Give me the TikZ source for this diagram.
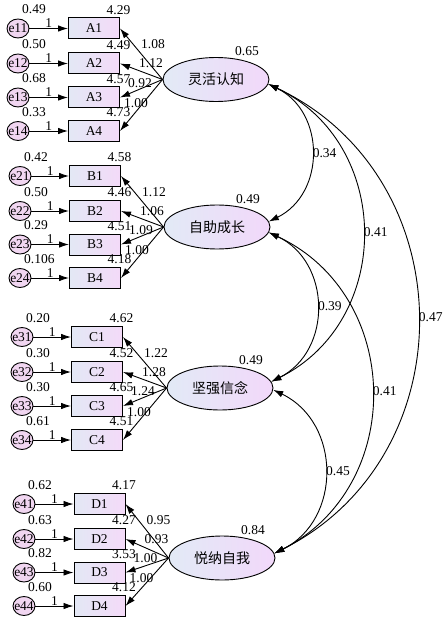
\documentclass[tikz,border=0pt]{standalone}
\usepackage{fontspec}
\setmainfont{Liberation Serif}
\newfontfamily\cjk{Noto Sans CJK SC}
\usetikzlibrary{arrows.meta,shapes.geometric}
\definecolor{boxl}{HTML}{E3E8F5}
\definecolor{boxr}{HTML}{F4DAF8}
\definecolor{latl}{HTML}{E2EAF6}
\definecolor{latr}{HTML}{F2D8FA}
\definecolor{errf}{HTML}{F1D6F1}

\begin{document}
\begin{tikzpicture}[x=1pt,y=1pt,font=\fontsize{13.5}{15}\selectfont,
    obs/.style={draw,line width=1pt,minimum width=51pt,minimum height=21pt,inner sep=0pt,left color=boxl,right color=boxr},
    err/.style={ellipse,draw,line width=0.9pt,minimum width=22pt,minimum height=19pt,inner xsep=-2.5pt,inner ysep=0pt,fill=errf},
    lat/.style={ellipse,draw,line width=0.9pt,minimum width=106pt,minimum height=44pt,inner sep=0pt,left color=latl,right color=latr,font=\cjk\fontsize{14}{16}\selectfont},
    reg/.style={line width=0.9pt,-{Latex[length=10pt,width=6.5pt]}},
    cov/.style={line width=0.9pt,{Latex[length=10pt,width=6.5pt]}-{Latex[length=10pt,width=6.5pt]},bend left=64,looseness=1.18},
    one/.style={above,inner sep=0.5pt},
    ev/.style={anchor=south west,inner sep=0pt,xshift=4pt,yshift=4.5pt},
    iv/.style={anchor=south east,inner sep=0pt,xshift=10.5pt,yshift=3pt},
    lv/.style={anchor=south,inner sep=0pt,xshift=31pt,yshift=1pt},
    cv/.style={midway,right,inner sep=1pt},
    ld1/.style={at end,xshift=33pt,yshift=-16pt},
    ld2/.style={at end,xshift=31pt,yshift=0pt},
    ld3/.style={at end,xshift=20pt,yshift=14.5pt},
    ld4/.style={at end,xshift=16pt,yshift=28pt}]
    \useasboundingbox (0,0) rectangle (444,-623);

        \node[lat,label={[lv]north:0.65}] (lhrz) at (216,-79.5) {灵活认知};
        \node[err,label={[ev]north:0.49}] (e11) at (18,-28.5) {e11};
        \node[err,label={[ev]north:0.50}] (e12) at (18,-63.5) {e12};
        \node[err,label={[ev]north:0.68}] (e13) at (18,-97.5) {e13};
        \node[err,label={[ev]north:0.33}] (e14) at (18,-131) {e14};
        \node[obs,label={[iv]north east:4.29}] (A1) at (94,-28.5) {A1};
        \node[obs,label={[iv]north east:4.49}] (A2) at (94,-63.5) {A2};
        \node[obs,label={[iv]north east:4.57}] (A3) at (94,-97.5) {A3};
        \node[obs,label={[iv]north east:4.73}] (A4) at (94,-131) {A4};

        \draw[reg] (e11) -- node[one] {1} (A1);
        \draw[reg] (e12) -- node[one] {1} (A2);
        \draw[reg] (e13) -- node[one] {1} (A3);
        \draw[reg] (e14) -- node[one] {1} (A4);
        \draw[reg] (lhrz.west) -- node[ld1] {1.08} (A1.east);
        \draw[reg] (lhrz.west) -- node[ld2] {1.12} (A2.east);
        \draw[reg] (lhrz.west) -- node[ld3] {0.92} (A3.east);
        \draw[reg] (lhrz.west) -- node[ld4] {1.00} (A4.east);

        \node[lat,label={[lv]north:0.49}] (zzcz) at (217,-227) {自助成长};
        \node[err,label={[ev]north:0.42}] (e21) at (20,-176) {e21};
        \node[err,label={[ev]north:0.50}] (e22) at (20,-211) {e22};
        \node[err,label={[ev]north:0.29}] (e23) at (20,-244.5) {e23};
        \node[err,label={[ev]north:0.106}] (e24) at (20,-278) {e24};
        \node[obs,label={[iv]north east:4.58}] (B1) at (95,-176) {B1};
        \node[obs,label={[iv]north east:4.46}] (B2) at (95,-211) {B2};
        \node[obs,label={[iv]north east:4.51}] (B3) at (95,-244.5) {B3};
        \node[obs,label={[iv]north east:4.18}] (B4) at (95,-278) {B4};

        \draw[reg] (e21) -- node[one] {1} (B1);
        \draw[reg] (e22) -- node[one] {1} (B2);
        \draw[reg] (e23) -- node[one] {1} (B3);
        \draw[reg] (e24) -- node[one] {1} (B4);
        \draw[reg] (zzcz.west) -- node[ld1] {1.12} (B1.east);
        \draw[reg] (zzcz.west) -- node[ld2] {1.06} (B2.east);
        \draw[reg] (zzcz.west) -- node[ld3] {1.09} (B3.east);
        \draw[reg] (zzcz.west) -- node[ld4] {1.00} (B4.east);

        \node[lat,label={[lv]north:0.49}] (jqxn) at (220,-388) {坚强信念};
        \node[err,label={[ev]north:0.20}] (e31) at (22,-337) {e31};
        \node[err,label={[ev]north:0.30}] (e32) at (22,-372) {e32};
        \node[err,label={[ev]north:0.30}] (e33) at (22,-406) {e33};
        \node[err,label={[ev]north:0.61}] (e34) at (22,-440) {e34};
        \node[obs,label={[iv]north east:4.62}] (C1) at (97,-337) {C1};
        \node[obs,label={[iv]north east:4.52}] (C2) at (97,-372) {C2};
        \node[obs,label={[iv]north east:4.65}] (C3) at (97,-406) {C3};
        \node[obs,label={[iv]north east:4.51}] (C4) at (97,-440) {C4};

        \draw[reg] (e31) -- node[one] {1} (C1);
        \draw[reg] (e32) -- node[one] {1} (C2);
        \draw[reg] (e33) -- node[one] {1} (C3);
        \draw[reg] (e34) -- node[one] {1} (C4);
        \draw[reg] (jqxn.west) -- node[ld1] {1.22} (C1.east);
        \draw[reg] (jqxn.west) -- node[ld2] {1.28} (C2.east);
        \draw[reg] (jqxn.west) -- node[ld3] {1.24} (C3.east);
        \draw[reg] (jqxn.west) -- node[ld4] {1.00} (C4.east);

        \node[lat,label={[lv]north:0.84}] (ynzw) at (222,-558) {悦纳自我};
        \node[err,label={[ev]north:0.62}] (e41) at (24,-504) {e41};
        \node[err,label={[ev]north:0.63}] (e42) at (24,-539) {e42};
        \node[err,label={[ev]north:0.82}] (e43) at (24,-572.5) {e43};
        \node[err,label={[ev]north:0.60}] (e44) at (24,-606) {e44};
        \node[obs,label={[iv]north east:4.17}] (D1) at (99.5,-504) {D1};
        \node[obs,label={[iv]north east:4.27}] (D2) at (99.5,-539) {D2};
        \node[obs,label={[iv]north east:3.53}] (D3) at (99.5,-572.5) {D3};
        \node[obs,label={[iv]north east:4.12}] (D4) at (99.5,-606) {D4};

        \draw[reg] (e41) -- node[one] {1} (D1);
        \draw[reg] (e42) -- node[one] {1} (D2);
        \draw[reg] (e43) -- node[one] {1} (D3);
        \draw[reg] (e44) -- node[one] {1} (D4);
        \draw[reg] (ynzw.west) -- node[ld1] {0.95} (D1.east);
        \draw[reg] (ynzw.west) -- node[ld2] {0.93} (D2.east);
        \draw[reg] (ynzw.west) -- node[ld3] {1.00} (D3.east);
        \draw[reg] (ynzw.west) -- node[ld4] {1.00} (D4.east);

        \draw[cov] (lhrz.-5) to node[cv] {0.34} (zzcz.6);
        \draw[cov] (lhrz.-5) to node[cv] {0.41} (jqxn.7);
        \draw[cov] (lhrz.-5) to node[cv] {0.47} (ynzw.5);
        \draw[cov] (zzcz.-6) to node[cv] {0.39} (jqxn.7);
        \draw[cov] (zzcz.-6) to node[cv] {0.41} (ynzw.5);
        \draw[cov] (jqxn.-2) to node[cv] {0.45} (ynzw.5);

        \end{tikzpicture}
\end{document}
